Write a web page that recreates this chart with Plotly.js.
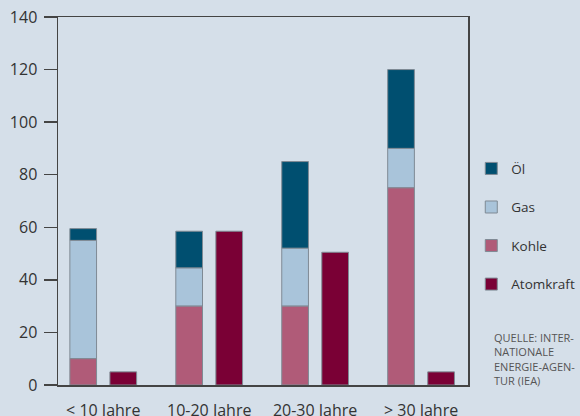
<!DOCTYPE html>
<html>
<head>
<meta charset="utf-8">
<script src="https://cdn.plot.ly/plotly-3.0.1.min.js"></script>
<style>html,body{margin:0;padding:0;background:#d5dfe9;}#chart{width:580px;height:416px;}</style>
</head>
<body>
<div id="chart"></div>
<script>
const categories = ['< 10 Jahre', '10-20 Jahre', '20-30 Jahre', '> 30 Jahre'];
const kohle = [10, 30, 30, 75];
const gas = [45, 14.5, 22, 15];
const oel = [4.5, 14, 33, 30];
const atomkraft = [5, 58.5, 50.5, 5];
const yTicks = [0, 20, 40, 60, 80, 100, 120, 140];

const baseGas = kohle.slice();
const baseOel = kohle.map((v, i) => v + gas[i]);

const W = 0.252;
const OFF_STACK = -0.315;
const OFF_ATOM = 0.063;
const outline = {color: '#7f8a94', width: 1};

const traces = [
  {type: 'bar', name: 'Öl', x: categories, y: oel, base: baseOel, width: W, offset: OFF_STACK,
   marker: {color: '#004f70', line: outline}, legendgroup: 'a', hoverinfo: 'skip'},
  {type: 'bar', name: 'Gas', x: categories, y: gas, base: baseGas, width: W, offset: OFF_STACK,
   marker: {color: '#a9c4da', line: outline}, legendgroup: 'b', hoverinfo: 'skip'},
  {type: 'bar', name: 'Kohle', x: categories, y: kohle, width: W, offset: OFF_STACK,
   marker: {color: '#b05b78', line: outline}, legendgroup: 'c', hoverinfo: 'skip'},
  {type: 'bar', name: 'Atomkraft', x: categories, y: atomkraft, width: W, offset: OFF_ATOM,
   marker: {color: '#7a0035', line: outline}, legendgroup: 'd', hoverinfo: 'skip'}
];

const layout = {
  width: 580, height: 416,
  paper_bgcolor: '#d5dfe9', plot_bgcolor: '#d5dfe9',
  margin: {l: 58, r: 112, t: 17, b: 31, pad: 0, autoexpand: false},
  barmode: 'overlay',
  font: {family: 'Open Sans, Liberation Sans, sans-serif', color: '#333', size: 15},
  showlegend: true,
  legend: {
    x: 1.008, xanchor: 'left', y: 0.63, yanchor: 'top',
    traceorder: 'grouped', tracegroupgap: 18,
    bgcolor: 'rgba(0,0,0,0)', font: {size: 13.5, color: '#333'}
  },
  xaxis: {
    type: 'category', range: [-0.427, 3.443],
    showline: true, linecolor: '#444', linewidth: 1.5, mirror: true,
    ticks: '', showgrid: false, zeroline: false,
    tickfont: {size: 16, color: '#333'}, ticklabelstandoff: 10,
    fixedrange: true
  },
  yaxis: {
    range: [0, 140], tickvals: yTicks, ticktext: yTicks.map(String),
    showline: true, linecolor: '#444', linewidth: 1.5, mirror: true,
    ticks: 'outside', ticklen: 13, tickwidth: 1.5, tickcolor: '#444',
    showgrid: false, zeroline: false,
    tickfont: {size: 16, color: '#333'}, ticklabelstandoff: 3,
    fixedrange: true
  },
  annotations: [{
    xref: 'paper', yref: 'paper', x: 1.059, y: 0.155, xanchor: 'left', yanchor: 'top',
    showarrow: false, align: 'left',
    text: 'QUELLE: INTER-<br>NATIONALE<br>ENERGIE-AGEN-<br>TUR (IEA)',
    font: {size: 11, color: '#555'}
  }]
};

Plotly.newPlot('chart', traces, layout, {displayModeBar: false, staticPlot: true});
</script>
</body>
</html>
